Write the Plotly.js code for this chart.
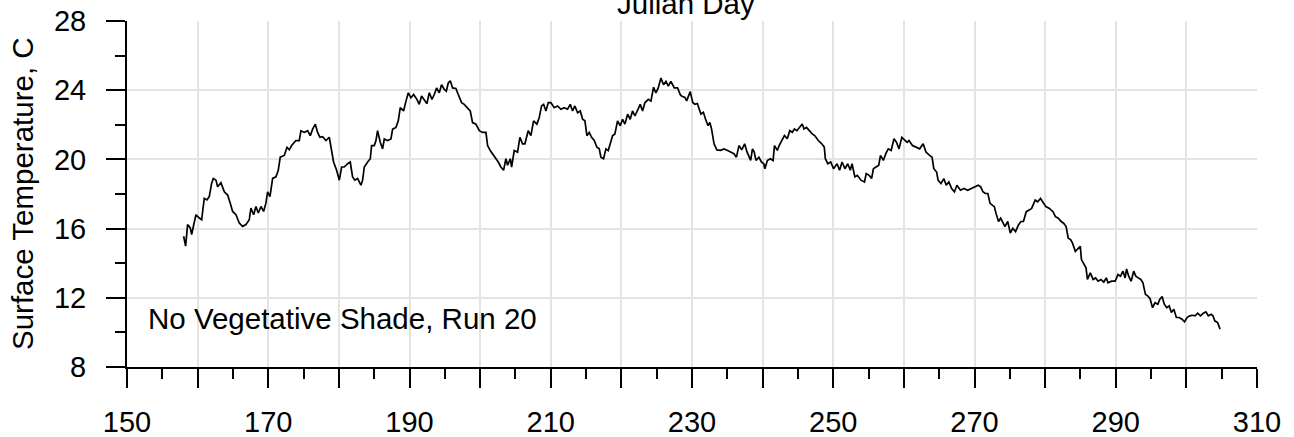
<!DOCTYPE html>
<html>
<head>
<meta charset="utf-8">
<script src="https://cdn.plot.ly/plotly-3.0.1.min.js"></script>
<style>
  html, body { margin: 0; padding: 0; background: #ffffff; }
  #chart { width: 1294px; height: 437px; }
</style>
</head>
<body>
<div id="chart"></div>
<script>
// ---- Data ----
const julianDay = [
  158.02,158.30,158.58,158.96,159.15,159.43,159.76,160.24,160.57,160.94,
  161.32,161.65,161.98,162.22,162.60,162.83,163.30,163.78,164.25,164.62,
  164.96,165.43,165.90,166.37,166.84,167.31,167.55,167.93,168.26,168.59,
  168.97,169.34,169.67,169.91,170.24,170.62,171.09,171.42,171.70,172.27,
  172.65,172.98,173.31,173.92,174.39,174.63,175.10,175.57,175.95,176.28,
  176.66,176.99,177.32,177.70,178.17,178.64,178.97,179.25,179.68,180.06,
  180.39,180.76,181.24,181.61,181.94,182.27,182.65,183.12,183.36,183.60,
  184.07,184.45,184.63,185.01,185.25,185.48,185.86,186.19,186.43,186.90,
  187.37,187.61,188.08,188.41,188.69,189.16,189.50,189.83,190.20,190.58,
  191.05,191.38,191.71,192.09,192.47,192.80,193.18,193.51,193.84,194.21,
  194.54,194.92,195.21,195.49,195.77,196.10,196.57,196.90,197.38,197.75,
  198.23,198.60,198.93,199.41,199.88,200.35,200.82,201.06,201.43,201.76,
  202.24,202.57,202.94,203.32,203.65,203.89,204.27,204.46,204.83,205.30,
  205.63,206.01,206.34,206.81,207.19,207.57,208.04,208.37,208.70,208.99,
  209.32,209.65,210.02,210.50,210.97,211.44,211.91,212.38,212.76,213.09,
  213.42,213.80,214.18,214.51,214.84,215.12,215.45,215.78,216.16,216.54,
  216.87,217.10,217.48,217.81,218.14,218.42,218.75,219.08,219.46,219.84,
  220.17,220.50,220.88,221.25,221.58,221.92,222.29,222.67,223.00,223.33,
  223.81,224.18,224.56,224.89,225.22,225.60,225.97,226.31,226.64,227.01,
  227.49,227.96,228.33,
  228.49,228.99,229.24,229.75,230.10,230.40,230.76,231.26,231.61,231.91,
  232.27,232.52,232.77,233.12,233.52,234.03,234.53,235.04,235.54,235.94,
  236.29,236.65,237.05,237.45,237.80,238.16,238.31,238.56,238.81,239.06,
  239.47,239.82,240.17,240.32,240.67,241.08,241.48,241.68,242.08,242.34,
  242.69,243.09,243.49,243.85,244.20,244.50,244.85,245.21,245.61,245.86,
  246.21,246.62,247.02,247.37,247.88,248.38,248.73,248.88,249.23,249.64,
  250.04,250.54,250.90,251.25,251.65,252.05,252.41,252.66,253.06,253.41,
  253.92,254.42,254.67,255.08,255.43,255.68,256.08,256.44,256.69,257.09,
  257.44,257.79,258.20,258.60,258.95,259.31,259.71,260.11,260.46,260.72,
  261.22,261.72,262.23,262.73,263.13,263.64,263.99,264.24,264.64,264.84,
  265.25,265.65,266.00,266.36,266.76,267.16,267.51,268.02,268.52,269.02,
  269.53,270.03,270.53,270.89,271.19,271.54,271.89,272.20,272.55,272.80,
  273.05,273.40,273.71,274.06,274.31,274.71,275.07,275.42,275.82,276.22,
  276.58,276.93,277.33,277.73,278.09,278.59,278.94,279.35,279.75,280.10,
  280.61,281.11,281.46,281.87,282.27,282.62,282.97,283.27,283.63,283.88,
  284.28,284.48,284.78,284.98,285.14,285.49,285.79,285.99,286.40,286.80,
  287.15,287.50,287.91,288.31,288.66,288.91,289.41,289.92,290.32,290.67,
  291.03,291.33,291.53,291.83,292.18,292.54,292.84,293.19,293.55,293.85,
  294.20,294.55,294.86,295.21,295.56,295.96,296.22,296.57,296.87,297.22,
  297.57,297.88,298.23,298.58,298.98,299.38,299.74,300.09,300.49,300.90,
  301.25,301.60,302.00,302.41,302.76,303.11,303.51,303.76,304.02,304.42,
  304.77
];
const surfaceTempC = [
  15.56,14.99,16.23,16.04,15.66,16.13,16.80,16.61,16.51,17.75,
  17.66,17.85,18.61,18.90,18.80,18.42,18.65,18.13,17.94,17.47,
  16.99,16.80,16.32,16.13,16.23,16.51,17.18,16.80,17.28,16.90,
  17.28,16.99,17.47,18.13,17.85,18.90,18.99,19.37,20.13,20.23,
  20.70,20.55,20.80,21.09,21.09,21.66,21.56,21.66,21.37,21.75,
  22.04,21.56,21.28,21.31,21.09,21.28,20.61,19.85,19.37,18.80,
  19.56,19.56,19.75,19.85,18.99,18.80,18.90,18.51,18.80,19.56,
  19.85,20.04,20.80,20.80,21.09,21.66,20.99,20.61,21.18,21.09,
  21.18,21.75,21.85,22.23,22.99,22.80,23.37,23.85,23.56,23.75,
  23.47,23.18,23.66,23.41,23.22,23.85,23.47,23.75,24.13,23.85,
  24.32,24.04,23.94,24.42,24.55,24.13,24.10,23.75,23.28,23.18,
  22.99,22.80,22.13,22.04,21.66,21.56,21.56,20.80,20.51,20.32,
  20.04,19.85,19.56,19.37,20.04,19.66,20.04,19.56,20.51,20.42,
  21.28,20.90,20.90,21.66,21.37,22.23,22.04,22.42,23.09,23.18,
  22.80,23.28,23.28,22.99,23.09,22.90,22.99,22.90,23.18,22.80,
  23.09,22.70,22.80,22.32,22.23,21.37,21.56,21.28,21.09,20.70,
  20.61,20.13,20.04,20.61,20.51,20.90,21.37,21.47,22.23,21.94,
  22.32,22.04,22.61,22.32,22.80,22.51,22.90,23.18,22.80,23.28,
  23.47,23.37,24.17,23.85,24.13,24.70,24.32,24.51,24.23,24.51,
  24.13,24.13,23.75,
  23.67,23.58,23.38,23.92,23.29,23.19,23.23,22.62,22.72,22.33,
  21.95,22.14,21.76,20.90,20.55,20.52,20.61,20.52,20.42,20.33,
  20.13,20.80,20.55,20.90,20.42,20.13,19.94,20.61,20.42,19.94,
  20.13,19.85,19.75,19.46,19.94,20.04,19.94,20.80,20.52,20.80,
  21.09,21.38,21.19,21.66,21.57,21.76,21.66,21.85,22.05,21.76,
  21.85,21.66,21.47,21.38,21.09,20.90,20.71,20.04,19.75,19.85,
  19.46,19.75,19.37,19.85,19.46,19.75,19.37,19.75,18.99,19.08,
  18.80,18.70,19.18,19.08,18.89,19.46,19.56,19.66,20.23,19.94,
  20.33,20.61,20.52,21.19,20.99,20.61,21.28,21.09,20.99,21.09,
  20.80,20.71,20.61,20.90,20.42,20.23,20.13,19.46,19.27,18.80,
  18.60,18.89,18.51,18.70,18.32,18.13,18.51,18.22,18.32,18.22,
  18.32,18.41,18.51,18.41,18.13,18.03,18.03,17.46,17.36,17.27,
  16.88,16.41,16.60,16.31,16.12,16.41,15.74,16.02,15.83,16.21,
  16.41,16.41,16.98,17.07,17.17,17.65,17.55,17.74,17.46,17.27,
  17.17,16.98,16.69,16.60,16.41,16.31,16.12,15.45,15.35,15.16,
  14.68,14.78,14.88,14.97,14.21,13.92,13.73,13.06,13.44,13.06,
  13.15,12.96,13.06,12.91,13.15,12.87,12.96,12.96,13.35,13.25,
  13.54,13.15,13.67,13.25,12.96,13.54,13.25,13.15,13.06,12.87,
  12.20,12.10,11.95,11.43,11.72,11.63,11.91,12.07,11.63,11.43,
  11.53,11.15,11.34,10.86,10.86,10.76,10.61,10.86,10.96,10.99,
  10.96,11.11,10.96,11.11,11.19,10.96,11.05,10.96,10.67,10.57,
  10.19
];

const xTickVals  = [150,160,170,180,190,200,210,220,230,240,250,260,270,280,290,300,310];
const xTickText  = ['150','','170','','190','','210','','230','','250','','270','','290','','310'];
const yTickVals  = [8,12,16,20,24,28];
const yTickText  = ['8','12','16','20','24','28'];

const xTitle = 'Julian Day';
const yTitle = 'Surface Temperature, C';
const runLabel = 'No Vegetative Shade, Run 20';

// ---- Chart ----
const FONT = 'Arial, "Liberation Sans", Helvetica, sans-serif';
const GRID = '#e3e3e3';
const TICK_SIZE = 29;
const TEXT_SIZE = 29.5;

const trace = {
  x: julianDay,
  y: surfaceTempC,
  type: 'scatter',
  mode: 'lines',
  line: { color: '#000000', width: 1.7 },
  hoverinfo: 'skip'
};

const layout = {
  width: 1294,
  height: 437,
  margin: { l: 127, r: 37, t: 21, b: 70, pad: 0 },
  paper_bgcolor: '#ffffff',
  plot_bgcolor: '#ffffff',
  showlegend: false,
  font: { family: FONT, size: TICK_SIZE, color: '#000000' },
  xaxis: {
    range: [150, 310],
    tickmode: 'array',
    tickvals: xTickVals,
    ticktext: xTickText,
    ticks: 'outside',
    ticklen: 19,
    tickwidth: 2,
    tickcolor: '#000000',
    ticklabelstandoff: 9,
    showline: true,
    linecolor: '#000000',
    linewidth: 2,
    showgrid: true,
    gridcolor: GRID,
    gridwidth: 2,
    zeroline: false,
    tickfont: { family: FONT, size: TICK_SIZE, color: '#000000' },
    minor: { dtick: 5, tick0: 150, ticks: 'outside', ticklen: 10, tickwidth: 2, tickcolor: '#000000', showgrid: false },
    fixedrange: true
  },
  yaxis: {
    range: [8, 28],
    tickmode: 'array',
    tickvals: yTickVals,
    ticktext: yTickText,
    ticks: 'outside',
    ticklen: 19,
    tickwidth: 2,
    tickcolor: '#000000',
    ticklabelstandoff: 14,
    showline: true,
    linecolor: '#000000',
    linewidth: 2,
    showgrid: true,
    gridcolor: GRID,
    gridwidth: 2,
    zeroline: false,
    tickfont: { family: FONT, size: TICK_SIZE, color: '#000000' },
    minor: { dtick: 2, tick0: 8, ticks: 'outside', ticklen: 10, tickwidth: 2, tickcolor: '#000000', showgrid: false },
    fixedrange: true
  },
  annotations: [
    {
      text: xTitle,
      xref: 'paper', yref: 'paper',
      x: 0.4947, y: 1,
      xanchor: 'center', yanchor: 'middle',
      yshift: 18,
      showarrow: false,
      font: { family: FONT, size: TEXT_SIZE, color: '#000000' }
    },
    {
      text: yTitle,
      xref: 'paper', yref: 'paper',
      x: 0, y: 0.5,
      xanchor: 'center', yanchor: 'middle',
      xshift: -105,
      textangle: -90,
      showarrow: false,
      font: { family: FONT, size: TEXT_SIZE, color: '#000000' }
    },
    {
      text: runLabel,
      xref: 'paper', yref: 'paper',
      x: 0.0168, y: 0.1416,
      xanchor: 'left', yanchor: 'middle',
      showarrow: false,
      font: { family: FONT, size: TEXT_SIZE, color: '#000000' }
    }
  ]
};

Plotly.newPlot('chart', [trace], layout, { staticPlot: true, displayModeBar: false });
</script>
</body>
</html>
